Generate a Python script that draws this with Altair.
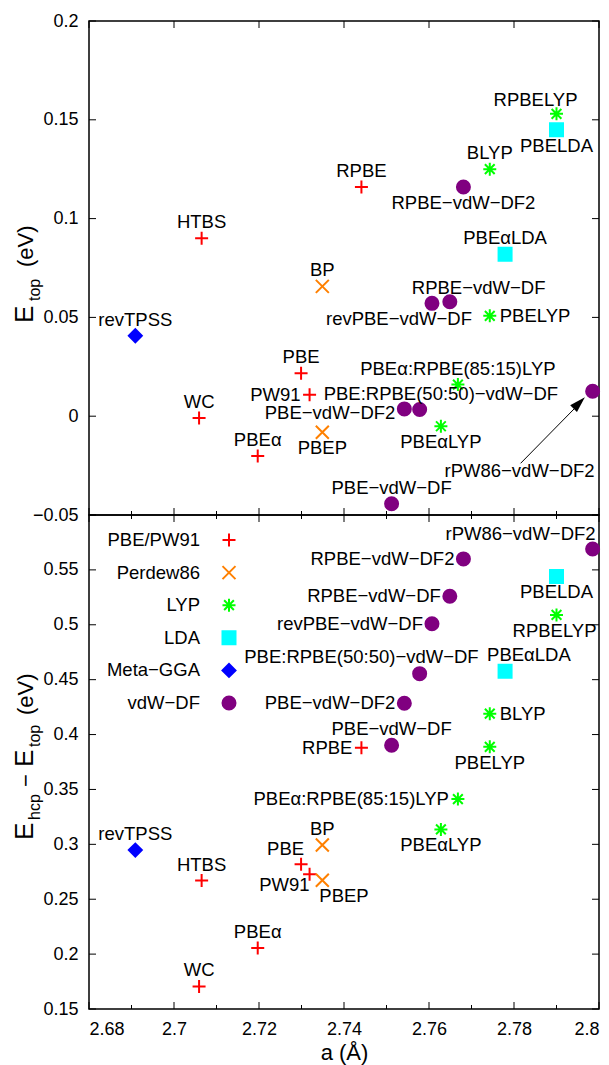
import altair as alt
import pandas as pd

FONT = "Liberation Sans"

# ---------------- data ----------------
names = ["RPBELYP", "PBELDA", "BLYP", "RPBE−vdW−DF2", "RPBE", "HTBS", "PBEαLDA", "BP",
         "RPBE−vdW−DF", "revPBE−vdW−DF", "PBELYP", "revTPSS", "PBE", "PW91",
         "PBEα:RPBE(85:15)LYP", "rPW86−vdW−DF2", "PBE−vdW−DF2", "PBE:RPBE(50:50)−vdW−DF",
         "WC", "PBEαLYP", "PBEP", "PBEα", "PBE−vdW−DF"]
lattice_a = [2.7900, 2.7900, 2.7743, 2.7681, 2.7441, 2.7065, 2.7779, 2.7349,
             2.7649, 2.7607, 2.7743, 2.6909, 2.7299, 2.7319,
             2.7668, 2.7985, 2.7542, 2.7578,
             2.7059, 2.7628, 2.7349, 2.7197, 2.7512]
e_top = [0.153, 0.145, 0.125, 0.116, 0.116, 0.090, 0.082, 0.0657,
         0.0579, 0.0571, 0.0508, 0.0407, 0.0217, 0.0109,
         0.016, 0.0126, 0.0037, 0.0034,
         -0.0009, -0.0051, -0.0081, -0.0202, -0.0443]
e_diff = [0.509, 0.544, 0.419, 0.560, 0.388, 0.267, 0.4576, 0.2994,
          0.526, 0.501, 0.3888, 0.2948, 0.2818, 0.2727,
          0.3412, 0.569, 0.4285, 0.4555,
          0.1706, 0.3136, 0.2673, 0.2055, 0.3903]
family = ["LYP", "LDA", "LYP", "vdW−DF", "PBE/PW91", "PBE/PW91", "LDA", "Perdew86",
          "vdW−DF", "vdW−DF", "LYP", "Meta−GGA", "PBE/PW91", "PBE/PW91",
          "LYP", "vdW−DF", "vdW−DF", "vdW−DF",
          "PBE/PW91", "LYP", "Perdew86", "PBE/PW91", "vdW−DF"]
# label placement category for each point (top panel / bottom panel)
place_top = ["above_left_far", "below", "above", "below", "above", "above", "above", "above",
             "above_right", "below_left", "right", "above", "above", "left",
             "above", "far_below", "left_low", "above_right_far",
             "above", "below", "below", "above", "above"]
place_bot = ["below_left", "below", "right", "left", "left", "above", "above_right_near", "above",
             "left", "left", "below", "above", "above_left", "below_left_near",
             "left", "above_left", "left", "above_wide",
             "above", "below", "below_right", "above", "above"]

families = ["PBE/PW91", "Perdew86", "LYP", "LDA", "Meta−GGA", "vdW−DF"]
x_major = [2.68, 2.7, 2.72, 2.74, 2.76, 2.78, 2.8]
x_minor = [2.69, 2.71, 2.73, 2.75, 2.77, 2.79]
y_top_ticks = [-0.05, 0, 0.05, 0.1, 0.15, 0.2]
y_bot_ticks = [0.15, 0.2, 0.25, 0.3, 0.35, 0.4, 0.45, 0.5, 0.55, 0.6]
y_bot_labels = [0.15, 0.2, 0.25, 0.3, 0.35, 0.4, 0.45, 0.5, 0.55]

# ---------------- styles ----------------
W, H = 510, 494
LABEL_SIZE = 18.5
PLUS = "M-1,0L1,0M0,-1L0,1"
CROSS = "M-1,-1L1,1M-1,1L1,-1"
STAR = "M-1,0L1,0M0,-1L0,1M-0.75,-0.75L0.75,0.75M-0.75,0.75L0.75,-0.75"
shape_range = [PLUS, CROSS, STAR, "square", "diamond", "circle"]
stroke_range = ["#ff0000", "#ff8000", "#00ff00", "#00ffff", "#0000ff", "#800080"]
fill_range = ["transparent", "transparent", "transparent", "#00ffff", "#0000ff", "#800080"]
sw_range = [2, 2, 2, 0, 0, 0]
size_range = [169, 169, 215, 169, 160, 169]

PLACE = {
    "above": ("center", 0, -16),
    "below": ("center", 0, 16),
    "right": ("left", 10, 0),
    "left": ("right", -9, 0),
    "left_low": ("right", -9, 4),
    "above_left": ("right", 3, -15),
    "above_left_far": ("right", 21, -14),
    "above_right": ("left", -38, -14),
    "above_right_near": ("left", -18, -16),
    "above_right_far": ("left", -96, -15),
    "above_wide": ("right", 59, -17),
    "below_left": ("right", 40, 16),
    "below_left_near": ("right", 0, 11),
    "below_right": ("left", -3, 16),
    "far_below": ("right", 2, 80),
}

df = pd.DataFrame({"name": names, "a": lattice_a, "e": e_top, "d": e_diff,
                   "family": family, "pt": place_top, "pb": place_bot})

XSCALE = alt.Scale(domain=[2.68, 2.8], nice=False, zero=False)


def xenc(field, bottom):
    if bottom:
        ax = alt.Axis(values=x_major, format="~g", title="a (Å)", ticks=False, tickSize=0,
                      domain=False, grid=False, labelPadding=11, titleFontSize=22,
                      titleFontWeight="normal", titlePadding=4)
    else:
        ax = None
    return alt.X(f"{field}:Q", scale=XSCALE, axis=ax)


def yenc(field, bottom):
    if bottom:
        sc = alt.Scale(domain=[0.15, 0.6], nice=False, zero=False)
        vals = y_bot_labels
    else:
        sc = alt.Scale(domain=[-0.05, 0.2], nice=False, zero=False)
        vals = y_top_ticks
    ax = alt.Axis(values=vals, format="~g", title=None, ticks=False, tickSize=0,
                  domain=False, grid=False, labelPadding=11)
    return alt.Y(f"{field}:Q", scale=sc, axis=ax)


def symbol_channels():
    return dict(
        shape=alt.Shape("family:N", scale=alt.Scale(domain=families, range=shape_range), legend=None),
        stroke=alt.Stroke("family:N", scale=alt.Scale(domain=families, range=stroke_range), legend=None),
        fill=alt.Fill("family:N", scale=alt.Scale(domain=families, range=fill_range), legend=None),
        strokeWidth=alt.StrokeWidth("family:N", scale=alt.Scale(domain=families, range=sw_range), legend=None),
        size=alt.Size("family:N", scale=alt.Scale(domain=families, range=size_range), legend=None),
    )


def points_layer(yfield, bottom):
    return alt.Chart(df).mark_point(opacity=1).encode(
        x=xenc("a", bottom), y=yenc(yfield, bottom), **symbol_channels()
    )


def label_layers(yfield, pfield, bottom):
    out = []
    for key in sorted(set(df[pfield])):
        align, dx, dy = PLACE[key]
        out.append(
            alt.Chart(df).transform_filter(alt.datum[pfield] == key).mark_text(
                align=align, baseline="middle", dx=dx, dy=dy, fontSize=LABEL_SIZE,
                font=FONT, color="black"
            ).encode(x=xenc("a", bottom), y=yenc(yfield, bottom), text="name:N")
        )
    return out


def tick_layers(bottom):
    yt = pd.DataFrame({"v": y_bot_ticks if bottom else y_top_ticks})
    xM = pd.DataFrame({"v": x_major})
    xm = pd.DataFrame({"v": x_minor})
    rule = dict(color="black", strokeWidth=1)
    L = [
        alt.Chart(yt).mark_rule(**rule).encode(y=yenc("v", bottom), x=alt.value(0), x2=alt.value(7)),
        alt.Chart(yt).mark_rule(**rule).encode(y=yenc("v", bottom), x=alt.value(W), x2=alt.value(W - 7)),
        alt.Chart(xM).mark_rule(**rule).encode(x=xenc("v", bottom), y=alt.value(H), y2=alt.value(H - 7)),
        alt.Chart(xm).mark_rule(**rule).encode(x=xenc("v", bottom), y=alt.value(H), y2=alt.value(H - 4)),
        alt.Chart(xM).mark_rule(**rule).encode(x=xenc("v", bottom), y=alt.value(0), y2=alt.value(7)),
    ]
    if bottom:
        L.append(alt.Chart(xm).mark_rule(**rule).encode(x=xenc("v", bottom), y=alt.value(0), y2=alt.value(4)))
    return L


def title_piece(text, x, y, size):
    return alt.Chart(pd.DataFrame({"t": [text]})).mark_text(
        angle=270, align="left", baseline="alphabetic", fontSize=size, font=FONT, color="black"
    ).encode(x=alt.value(x), y=alt.value(y), text="t:N")


# ---------------- top panel ----------------
arrow_src = df[df["name"] == "rPW86−vdW−DF2"]
arrow_line = alt.Chart(arrow_src).mark_rule(
    color="black", strokeWidth=1, xOffset=-72, yOffset=72, x2Offset=-13, y2Offset=12
).encode(x=xenc("a", False), y=yenc("e", False), x2="a:Q", y2="e:Q")
arrow_head = alt.Chart(arrow_src).mark_point(
    shape="M0,-1L0.6,1L-0.6,1Z", filled=True, color="black", opacity=1, size=256,
    angle=45, xOffset=-13.4, yOffset=11.7
).encode(x=xenc("a", False), y=yenc("e", False))

top_titles = [
    title_piece("E", -56, 302, 26),
    title_piece("top", -49, 280, 16),
    title_piece("(eV)", -56, 246, 22),
]

top = alt.layer(
    *tick_layers(False),
    arrow_line, arrow_head,
    points_layer("e", False),
    *label_layers("e", "pt", False),
    *top_titles,
).properties(width=W, height=H)

# ---------------- bottom panel ----------------
bot_titles = [
    title_piece("E", -56, 325, 26),
    title_piece("hcp", -49, 305, 16),
    title_piece("−", -56, 272, 22),
    title_piece("E", -56, 252, 26),
    title_piece("top", -49, 232, 16),
    title_piece("(eV)", -56, 200, 22),
]

bot_data = alt.layer(
    *tick_layers(True),
    points_layer("d", True),
    *label_layers("d", "pb", True),
    *bot_titles,
)

legend_df = pd.DataFrame({"row": list(range(len(families))), "family": families})
LEG_Y = alt.Y("row:O", scale=alt.Scale(type="point", range=[25, 188], padding=0), axis=None)
legend_text = alt.Chart(legend_df).mark_text(
    align="right", baseline="middle", fontSize=LABEL_SIZE, font=FONT, color="black"
).encode(x=alt.value(111), y=LEG_Y, text="family:N")
legend_pts = alt.Chart(legend_df).mark_point(opacity=1).encode(
    x=alt.value(140), y=LEG_Y, **symbol_channels()
)
legend = alt.layer(legend_text, legend_pts)

bottom = alt.layer(bot_data, legend).resolve_scale(y="independent").properties(width=W, height=H)

chart = alt.vconcat(top, bottom, spacing=0, bounds="flush").properties(
    padding={"left": 11, "top": 11, "right": 2, "bottom": 2},
    background="white",
).configure_view(
    stroke="black", strokeWidth=1.5
).configure_axis(
    labelFont=FONT, labelFontSize=18, labelColor="black", titleFont=FONT, titleColor="black"
)

chart.save("out.html", embed_options={"renderer": "svg", "actions": False})
